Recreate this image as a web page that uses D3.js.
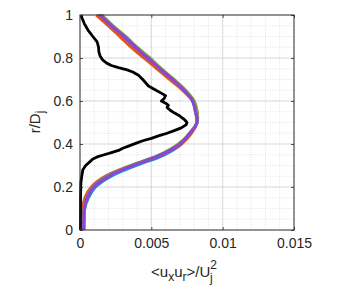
<!DOCTYPE html>
<html lang="en">
<head>
  <meta charset="UTF-8">
  <title>uxur profile</title>
  <script src="https://d3js.org/d3.v7.min.js"></script>
  <style>
    body { margin: 0; background: #fff; }
    text { font-family: "Liberation Sans", Arial, sans-serif; fill: #262626; }
  </style>
</head>
<body>
  <div id="chart"></div>

  <script>
    // radial positions shared by the coloured profiles
    const rColor = [0, 0.05, 0.1, 0.15, 0.2, 0.25, 0.3, 0.35, 0.4, 0.45, 0.5,
                    0.55, 0.6, 0.65, 0.7, 0.75, 0.8, 0.85, 0.9, 0.95, 1];
    const blueVals   = [0.00026, 0.00028, 0.00033, 0.00058, 0.00108, 0.00215, 0.0039, 0.0059, 0.0071, 0.0077, 0.0082,
                        0.0081, 0.0079, 0.0073, 0.0065, 0.0056, 0.0047, 0.0038, 0.003, 0.0021, 0.0013];
    const orangeVals = [0.0002, 0.0002, 0.0002, 0.00035, 0.0008, 0.0018, 0.0036, 0.0057, 0.0071, 0.0078, 0.0082,
                        0.0082, 0.0079, 0.0072, 0.0063, 0.0054, 0.0045, 0.0036, 0.0028, 0.002, 0.00115];
    const greenVals  = [0.00026, 0.00027, 0.0003, 0.00048, 0.0009, 0.0019, 0.0036, 0.0056, 0.0069, 0.0077, 0.0082,
                        0.0082, 0.008, 0.0074, 0.0066, 0.0057, 0.0049, 0.004, 0.0032, 0.0023, 0.00152];
    const purpleVals = [0.00026, 0.00027, 0.0003, 0.0005, 0.00095, 0.002, 0.0037, 0.0057, 0.007, 0.0077, 0.0082,
                        0.0081, 0.0079, 0.0073, 0.0065, 0.0056, 0.00475, 0.0039, 0.0031, 0.0022, 0.0014];

    // black profile, own radial sampling
    const rBlack = [1, 0.985, 0.96, 0.93, 0.9, 0.875, 0.85, 0.83, 0.81, 0.79, 0.775, 0.765, 0.755, 0.745,
                    0.735, 0.72, 0.7, 0.685, 0.67, 0.655, 0.64, 0.625, 0.612, 0.6, 0.59, 0.58, 0.57, 0.558,
                    0.545, 0.53, 0.515, 0.5, 0.49, 0.475, 0.462, 0.45, 0.438, 0.426, 0.415, 0.403, 0.39,
                    0.38, 0.37, 0.36, 0.35, 0.34, 0.33, 0.318, 0.3, 0.28, 0.25, 0.217, 0.15, 0];
    const blackVals = [0.00007, 0.00015, 0.0003, 0.00056, 0.0009, 0.0012, 0.0013, 0.00132, 0.0014, 0.0016,
                       0.0019, 0.0022, 0.0027, 0.0033, 0.0037, 0.0041, 0.0044, 0.0046, 0.0048, 0.0052, 0.0056,
                       0.006, 0.0059, 0.0057, 0.006, 0.0062, 0.0061, 0.0063, 0.0066, 0.007, 0.0073, 0.0075,
                       0.00745, 0.0071, 0.0066, 0.0061, 0.0055, 0.005, 0.0044, 0.0039, 0.0034, 0.003, 0.0027,
                       0.0022, 0.0017, 0.0012, 0.0009, 0.0007, 0.0004, 0.0002, 0.00012, 0.00006, 0.00004, 0.00003];

    const xTicks = [0, 0.005, 0.01, 0.015];
    const xTickLabels = ["0", "0.005", "0.01", "0.015"];
    const yTicks = [0, 0.2, 0.4, 0.6, 0.8, 1];
    const yTickLabels = ["0", "0.2", "0.4", "0.6", "0.8", "1"];

    const W = 351, H = 287;
    const m = { left: 80, right: 294, top: 15, bottom: 230 };

    const svg = d3.select("#chart").append("svg")
      .attr("width", W).attr("height", H);

    const x = d3.scaleLinear().domain([0, 0.015]).range([m.left, m.right]);
    const y = d3.scaleLinear().domain([0, 1]).range([m.bottom, m.top]);

    // minor grid
    const grid = svg.append("g");
    grid.selectAll(".gxm").data(d3.range(0.001, 0.0145, 0.001)).join("line")
      .attr("x1", d => x(d)).attr("x2", d => x(d)).attr("y1", m.top).attr("y2", m.bottom)
      .attr("stroke", "#d6d6d6").attr("stroke-width", 0.6).attr("stroke-dasharray", "1.2,1.2");
    grid.selectAll(".gym").data(d3.range(0.05, 0.99, 0.05)).join("line")
      .attr("y1", d => y(d)).attr("y2", d => y(d)).attr("x1", m.left).attr("x2", m.right)
      .attr("stroke", "#d6d6d6").attr("stroke-width", 0.6).attr("stroke-dasharray", "1.2,1.2");
    // major grid
    grid.selectAll(".gx").data(xTicks.slice(1, -1)).join("line")
      .attr("x1", d => x(d)).attr("x2", d => x(d)).attr("y1", m.top).attr("y2", m.bottom)
      .attr("stroke", "#d0d0d0").attr("stroke-width", 0.7);
    grid.selectAll(".gy").data(yTicks.slice(1, -1)).join("line")
      .attr("y1", d => y(d)).attr("y2", d => y(d)).attr("x1", m.left).attr("x2", m.right)
      .attr("stroke", "#d0d0d0").attr("stroke-width", 0.7);

    const lineOf = (rs, vs, curve) => d3.line()
      .x((d, i) => x(vs[i]))
      .y(d => y(d))
      .curve(curve)(rs);

    const coloured = [
      { vals: blueVals, color: "#1c8cd9" },
      { vals: orangeVals, color: "#e0561c" },
      { vals: greenVals, color: "#77ac30" },
      { vals: purpleVals, color: "#8b46d6" }
    ];

    const plot = svg.append("g");
    plot.selectAll(".prof").data(coloured).join("path")
      .attr("d", s => lineOf(rColor, s.vals, d3.curveCatmullRom))
      .attr("fill", "none")
      .attr("stroke", s => s.color)
      .attr("stroke-width", 3.2)
      .attr("stroke-linejoin", "round");

    plot.append("path")
      .attr("d", lineOf(rBlack, blackVals, d3.curveLinear))
      .attr("fill", "none")
      .attr("stroke", "#000")
      .attr("stroke-width", 2.8)
      .attr("stroke-linejoin", "round");

    // axes box with inward ticks
    const tickLen = 3;
    const axisColor = "#262626";
    svg.append("g").attr("transform", `translate(0,${m.bottom})`)
      .call(d3.axisBottom(x).tickValues(xTicks).tickSize(-tickLen).tickPadding(8)
        .tickFormat((d, i) => xTickLabels[i]))
      .call(g => g.select(".domain").remove());
    svg.append("g").attr("transform", `translate(0,${m.top})`)
      .call(d3.axisTop(x).tickValues(xTicks).tickSize(-tickLen).tickFormat(""))
      .call(g => g.select(".domain").remove());
    svg.append("g").attr("transform", `translate(${m.left},0)`)
      .call(d3.axisLeft(y).tickValues(yTicks).tickSize(-tickLen).tickPadding(7)
        .tickFormat((d, i) => yTickLabels[i]))
      .call(g => g.select(".domain").remove());
    svg.append("g").attr("transform", `translate(${m.right},0)`)
      .call(d3.axisRight(y).tickValues(yTicks).tickSize(-tickLen).tickFormat(""))
      .call(g => g.select(".domain").remove());

    svg.selectAll(".tick line").attr("stroke", axisColor).attr("stroke-width", 0.8);
    svg.selectAll(".tick text")
      .attr("font-size", 14).attr("fill", axisColor)
      .attr("font-family", "Liberation Sans, Arial, sans-serif");

    svg.append("rect")
      .attr("x", m.left).attr("y", m.top)
      .attr("width", m.right - m.left).attr("height", m.bottom - m.top)
      .attr("fill", "none").attr("stroke", axisColor).attr("stroke-width", 1);

    // axis labels
    const xl = svg.append("text")
      .attr("x", (m.left + m.right) / 2 - 3).attr("y", 277)
      .attr("text-anchor", "middle").attr("font-size", 15);
    xl.append("tspan").text("<u");
    xl.append("tspan").attr("font-size", 12).attr("dy", 4).text("x");
    xl.append("tspan").attr("dy", -4).text("u");
    xl.append("tspan").attr("font-size", 12).attr("dy", 4).text("r");
    xl.append("tspan").attr("dy", -4).text(">/U");
    xl.append("tspan").attr("font-size", 12).attr("dy", -8).text("2");
    xl.append("tspan").attr("font-size", 12).attr("dx", -7).attr("dy", 13).text("j");

    const yl = svg.append("text")
      .attr("transform", "translate(40,122) rotate(-90)")
      .attr("text-anchor", "middle").attr("font-size", 15);
    yl.append("tspan").text("r/D");
    yl.append("tspan").attr("font-size", 12).attr("dy", 4).text("j");
  </script>
</body>
</html>
